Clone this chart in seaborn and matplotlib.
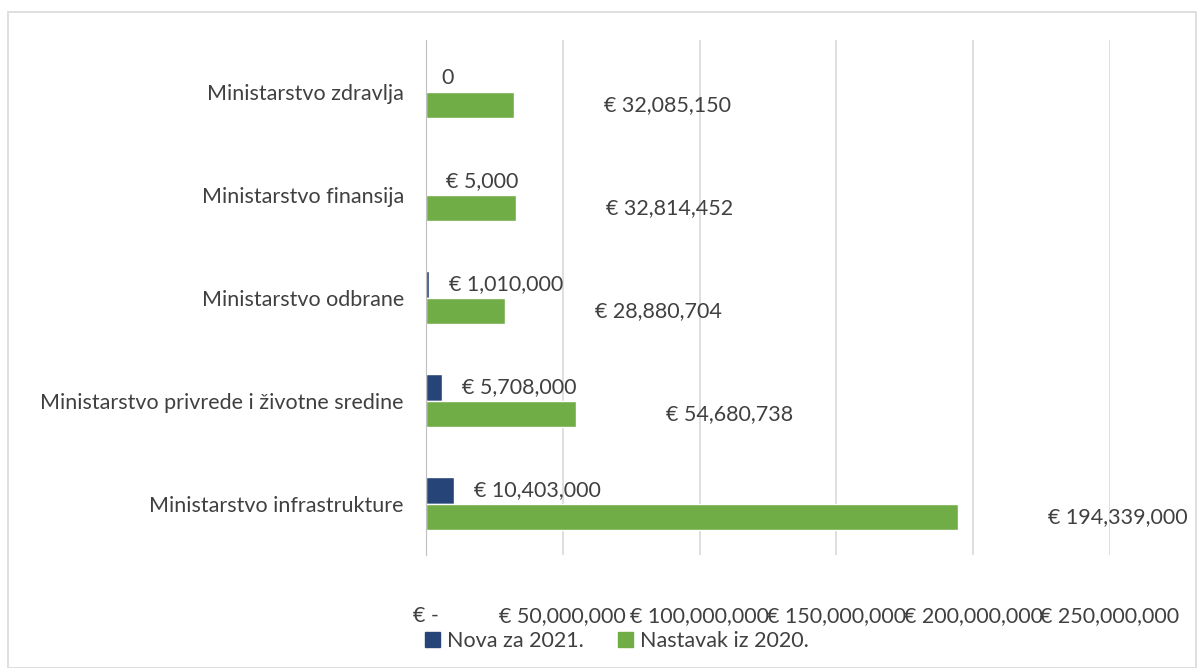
import pandas as pd
import seaborn as sns
import matplotlib.pyplot as plt
from matplotlib.patches import Patch, Rectangle
from matplotlib.ticker import FuncFormatter

ministries = [
    "Ministarstvo zdravlja",
    "Ministarstvo finansija",
    "Ministarstvo odbrane",
    "Ministarstvo privrede i životne sredine",
    "Ministarstvo infrastrukture",
]
nova_2021 = [0, 5000, 1010000, 5708000, 10403000]
nastavak_2020 = [32085150, 32814452, 28880704, 54680738, 194339000]
series_names = ["Nova za 2021.", "Nastavak iz 2020."]
colors = ["#264478", "#70AD47"]
x_ticks = [0, 50000000, 100000000, 150000000, 200000000, 250000000]

df = pd.concat(
    [
        pd.DataFrame({"ministry": ministries, "value": nova_2021, "series": series_names[0]}),
        pd.DataFrame({"ministry": ministries, "value": nastavak_2020, "series": series_names[1]}),
    ]
)

sns.set_style("white")
plt.rcParams["font.family"] = ["Lato", "DejaVu Sans"]
text_color = "#404040"
fs = 15.5

fig = plt.figure(figsize=(12, 6.68), dpi=100)
ax = fig.add_axes([0.355, 0.169, 0.570, 0.771])

sns.barplot(
    data=df,
    x="value",
    y="ministry",
    hue="series",
    hue_order=series_names,
    palette=colors,
    orient="h",
    width=0.52,
    saturation=1,
    ax=ax,
)

ax.set_xlim(0, 250000000)
ax.set_xticks(x_ticks)
ax.xaxis.set_major_formatter(
    FuncFormatter(lambda v, p: "€ -" if v == 0 else f"€ {int(v):,}")
)
ax.grid(axis="x", color="#D9D9D9", linewidth=1.2)
ax.set_axisbelow(True)
for side in ["top", "right", "bottom"]:
    ax.spines[side].set_visible(False)
ax.spines["left"].set_color("#BFBFBF")
ax.tick_params(axis="x", length=0, pad=37, labelsize=fs, labelcolor=text_color)
ax.tick_params(axis="y", length=0, pad=16, labelsize=fs, labelcolor=text_color)
ax.set_xlabel("")
ax.set_ylabel("")

# data labels
for container, offset in zip(ax.containers, [20, 90]):
    for bar in container:
        v = bar.get_width()
        label = "0" if v == 0 else f"€ {int(round(v)):,}"
        ax.annotate(
            label,
            (v, bar.get_y() + bar.get_height() / 2),
            xytext=(offset if v > 0 else 15, 0),
            textcoords="offset pixels",
            va="center",
            ha="left",
            fontsize=fs,
            color=text_color,
        )

ax.get_legend().remove()
handles = [Patch(color=c, label=n) for c, n in zip(colors, series_names)]
fig.legend(
    handles=handles,
    loc="center",
    bbox_to_anchor=(0.514, 0.04),
    ncol=2,
    frameon=False,
    fontsize=fs,
    handlelength=0.7,
    handleheight=0.7,
    handletextpad=0.3,
    columnspacing=1.6,
    labelcolor=text_color,
)

fig.patches.append(
    Rectangle((0.007, 0.0), 0.99, 0.982, transform=fig.transFigure,
              fill=False, edgecolor="#D9D9D9", linewidth=1.2)
)

fig.savefig("out.png", dpi=100)
